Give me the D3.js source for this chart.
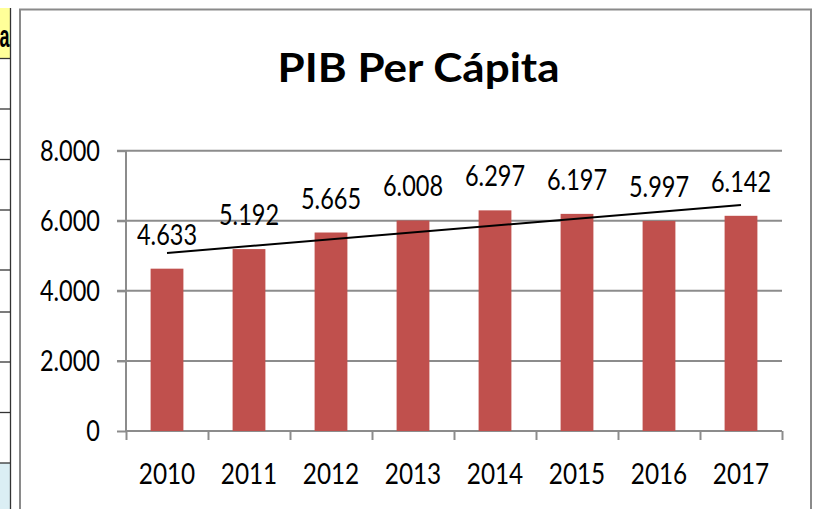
<!DOCTYPE html>
<html>
<head>
<meta charset="utf-8">
<script src="https://cdn.jsdelivr.net/npm/d3@7"></script>
<style>
  html, body { margin: 0; padding: 0; background: #ffffff; }
  svg { display: block; }
</style>
</head>
<body>
<svg id="chart" width="820" height="509"></svg>
<script>
// ---- data ----
const title = "PIB Per Cápita";
const years = ["2010", "2011", "2012", "2013", "2014", "2015", "2016", "2017"];
const pibPerCapita = [4633, 5192, 5665, 6008, 6297, 6197, 5997, 6142];
const yTicks = [0, 2000, 4000, 6000, 8000];
const sideCellText = "a";

// ---- setup ----
const svg = d3.select("#chart");
const W = 820, H = 509;
const FONT = "Lato, 'Open Sans', sans-serif";
const SQX = 0.84;          // horizontal squeeze of chart text
const fmt = d3.formatLocale({ decimal: ",", thousands: ".", grouping: [3], currency: ["", ""] }).format(",d");

svg.append("rect").attr("width", W).attr("height", H).attr("fill", "#ffffff");

// ---- spreadsheet fragment at left ----
const side = svg.append("g");
side.append("rect").attr("x", 0).attr("y", 8).attr("width", 10).attr("height", 50).attr("fill", "#ffff99");
side.append("rect").attr("x", 0).attr("y", 463).attr("width", 10).attr("height", H - 463).attr("fill", "#dbeef4");
[58.5, 109, 159.5, 210, 270, 312, 362, 412.5, 463].forEach(y => {
  side.append("line").attr("x1", 0).attr("x2", 10).attr("y1", y).attr("y2", y)
    .attr("stroke", "#333").attr("stroke-width", 1.3);
});
side.append("line").attr("x1", 10.5).attr("x2", 10.5).attr("y1", 8).attr("y2", H)
  .attr("stroke", "#333").attr("stroke-width", 1.3);
side.append("text").attr("transform", "translate(9.5,47) scale(0.58,1)").attr("text-anchor", "end")
  .attr("font-family", "'Liberation Sans', Arial, sans-serif").attr("font-weight", "bold")
  .attr("font-size", 31).attr("fill", "#000").text(sideCellText);

// ---- chart frame ----
svg.append("rect").attr("x", 20).attr("y", 9.5).attr("width", 791).attr("height", 540)
  .attr("fill", "#ffffff").attr("stroke", "#8a8a8a").attr("stroke-width", 2);

// ---- scales ----
const x = d3.scaleBand().domain(years).range([126, 782]).paddingInner(0.6).paddingOuter(0.3);
const y = d3.scaleLinear().domain([0, 8000]).range([431, 150.7]);
const GRID = "#8c8c8c";

// gridlines
svg.append("g").selectAll("line").data(yTicks.filter(t => t > 0)).join("line")
  .attr("x1", 117).attr("x2", 782)
  .attr("y1", d => y(d)).attr("y2", d => y(d))
  .attr("stroke", GRID).attr("stroke-width", 2);

// y axis
const yAxis = svg.append("g").attr("transform", "translate(126,0)")
  .call(d3.axisLeft(y).tickValues(yTicks).tickSize(9).tickFormat(""));
yAxis.select(".domain").attr("stroke", GRID).attr("stroke-width", 2).attr("d", `M0,${y(8000)}V${y(0)}`);
yAxis.selectAll(".tick line").attr("stroke", GRID).attr("stroke-width", 2);

// x axis (ticks at category boundaries)
const xb = d3.scaleLinear().domain([0, years.length]).range([126, 782]);
const xAxis = svg.append("g").attr("transform", "translate(0,431)")
  .call(d3.axisBottom(xb).tickValues(d3.range(years.length + 1)).tickSize(9).tickFormat(""));
xAxis.select(".domain").attr("stroke", GRID).attr("stroke-width", 2).attr("d", `M126,0H782`);
xAxis.selectAll(".tick line").attr("stroke", GRID).attr("stroke-width", 2);

// bars
svg.append("g").selectAll("rect").data(years).join("rect")
  .attr("x", d => x(d)).attr("width", x.bandwidth())
  .attr("y", (d, i) => y(pibPerCapita[i]))
  .attr("height", (d, i) => y(0) - y(pibPerCapita[i]))
  .attr("fill", "#c0504d");

// linear trendline (least squares)
const n = pibPerCapita.length;
const xs = d3.range(1, n + 1);
const mx = d3.mean(xs), my = d3.mean(pibPerCapita);
const slope = d3.sum(xs, (v, i) => (v - mx) * (pibPerCapita[i] - my)) / d3.sum(xs, v => (v - mx) ** 2);
const icpt = my - slope * mx;
const trend = [1, n].map(v => [x(years[v - 1]) + x.bandwidth() / 2, y(icpt + slope * v)]);
svg.append("path").attr("d", d3.line()(trend)).attr("fill", "none")
  .attr("stroke", "#000").attr("stroke-width", 2);

// text helper
function sq(g, tx, ty, txt, size, anchor, weight, sx) {
  return g.append("text")
    .attr("transform", `translate(${tx},${ty}) scale(${sx},1)`)
    .attr("text-anchor", anchor)
    .attr("font-family", FONT).attr("font-weight", weight || "normal")
    .attr("font-size", size).attr("fill", "#000").text(txt);
}

const labels = svg.append("g");
// data labels
years.forEach((yr, i) => {
  sq(labels, x(yr) + x.bandwidth() / 2, y(pibPerCapita[i]) - 24, fmt(pibPerCapita[i]), 28, "middle", "normal", SQX);
});
// y tick labels
yTicks.forEach(t => sq(labels, 100, y(t) + 10, fmt(t), 28, "end", "normal", SQX));
// x labels
years.forEach(yr => sq(labels, x(yr) + x.bandwidth() / 2, 484, yr, 29, "middle", "normal", SQX));

// title
labels.append("text").attr("x", 418.5).attr("y", 81.7).attr("text-anchor", "middle")
  .attr("font-family", FONT).attr("font-weight", "bold").attr("font-size", 40)
  .attr("textLength", 282).attr("lengthAdjust", "spacingAndGlyphs")
  .attr("fill", "#000").text(title);
</script>
</body>
</html>
